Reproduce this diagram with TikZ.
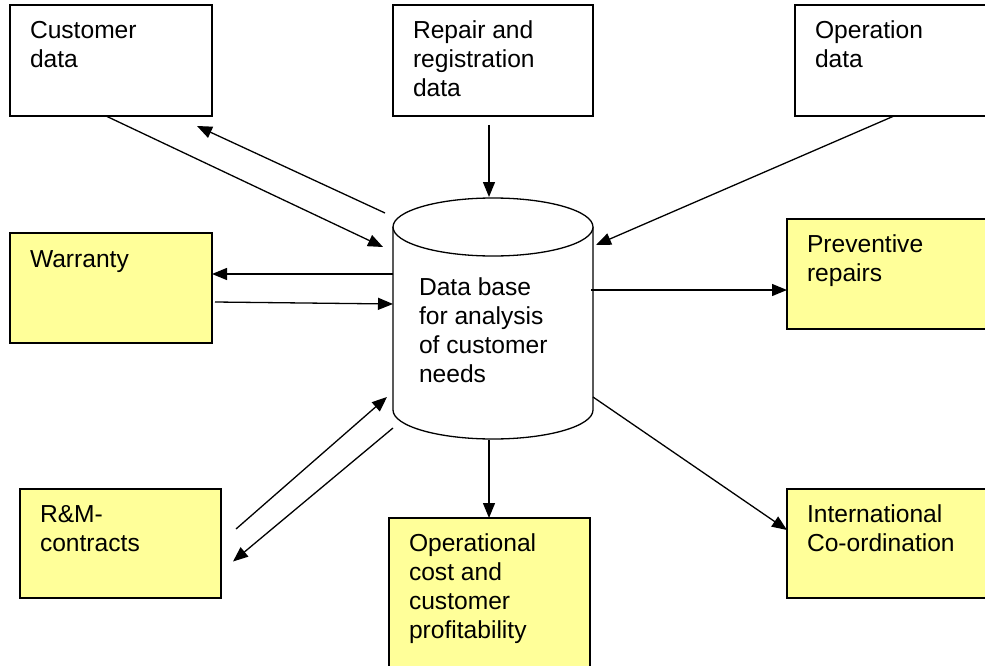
\documentclass[tikz,border=0pt]{standalone}
\usepackage{fontspec}
\setmainfont{Liberation Sans}
\usetikzlibrary{arrows.meta,calc}
\definecolor{boxyellow}{HTML}{FFFF99}
\tikzset{
  box/.style={draw=black, line width=1.3pt, fill=white, inner sep=0pt, outer sep=0pt, anchor=north west},
  ybox/.style={box, fill=boxyellow},
  txt/.style={inner sep=0pt, outer sep=0pt, anchor=base west, align=left, font=\fontsize{24.6}{29}\selectfont},
  conn/.style={line width=1.3pt, -{Triangle[length=15pt,width=12pt]}}
}
\begin{document}
\begin{tikzpicture}[x=1pt,y=-1pt]
\useasboundingbox (0,0) rectangle (985,666);
% boxes
\node[box, minimum width=202pt, minimum height=111pt] (cust) at (10,5) {};
\node[box, minimum width=200pt, minimum height=111pt] (rep) at (393,5) {};
\node[box, minimum width=194pt, minimum height=111pt] (op) at (795,5) {};
\node[ybox, minimum width=202pt, minimum height=110pt] (war) at (10,233) {};
\node[ybox, minimum width=202pt, minimum height=110pt] (pre) at (787,219) {};
\node[ybox, minimum width=202pt, minimum height=109pt] (int) at (787,489) {};
\node[ybox, minimum width=201pt, minimum height=109pt] (rm) at (20,489) {};
\node[ybox, minimum width=201pt, minimum height=155pt] (ops) at (389,518) {};
% database cylinder
\node[inner sep=0pt, outer sep=0pt, minimum width=200pt, minimum height=183pt] (db) at (493,318.5) {};
\fill[white] (db.north west) -- (db.south west) arc[start angle=180, end angle=360, x radius=100pt, y radius=29pt] -- (db.north east) -- cycle;
\draw[line width=1.3pt] (db.north west) -- (db.south west) arc[start angle=180, end angle=360, x radius=100pt, y radius=29pt] -- (db.north east);
\draw[line width=1.3pt, fill=white] (db.north) ellipse[x radius=100pt, y radius=29pt];
% texts (anchor is the baseline of the last line)
\node[txt] (custT) at ($(cust.north west)+(20,63)$) {Customer\\data};
\node[txt] (repT) at ($(rep.north west)+(20,92)$) {Repair and\\registration\\data};
\node[txt] (opT) at ($(op.north west)+(20,63)$) {Operation\\data};
\node[txt] (warT) at ($(war.north west)+(20,34)$) {Warranty};
\node[txt] (preT) at ($(pre.north west)+(20,62)$) {Preventive\\repairs};
\node[txt] (intT) at ($(int.north west)+(20,62)$) {International\\Co-ordination};
\node[txt] (rmT) at ($(rm.north west)+(20,62)$) {R\&M-\\contracts};
\node[txt] (opsT) at ($(ops.north west)+(20,120)$) {Operational\\cost and\\customer\\profitability};
\node[txt] (dbT) at ($(db.north west)+(26,155)$) {Data base\\for analysis\\of customer\\needs};
% connectors
\draw[conn] ($(cust.south)+(-5,0)$) -- ($(db.north west)+(-10,20)$);
\draw[conn] ($(db.north west)+(-8,-14)$) -- ($(cust.south east)+(-15,10)$);
\draw[conn] ($(rep.south)+(-4,9)$) -- ($(db.north)+(-4,-30)$);
\draw[conn] ($(op.south)+(2,0)$) -- ($(db.north east)+(3,18)$);
\draw[conn] ($(db.west)+(0,-44.5)$) -- ($(war.east)+(0,-14)$);
\draw[conn] ($(war.east)+(3,14)$) -- ($(db.west)+(0,-14.5)$);
\draw[conn] ($(db.east)+(-2,-28.5)$) -- ($(pre.west)+(0,16)$);
\draw[conn] ($(db.south east)+(0,-13)$) -- ($(int.west)+(0,-13.5)$);
\draw[conn] ($(db.south)+(-4,30)$) -- ($(ops.north)+(-0.5,0)$);
\draw[conn] ($(rm.north east)+(15,40)$) -- ($(db.south west)+(-6,-13)$);
\draw[conn] ($(db.south west)+(0,18)$) -- ($(rm.east)+(12,18)$);
\end{tikzpicture}
\end{document}
